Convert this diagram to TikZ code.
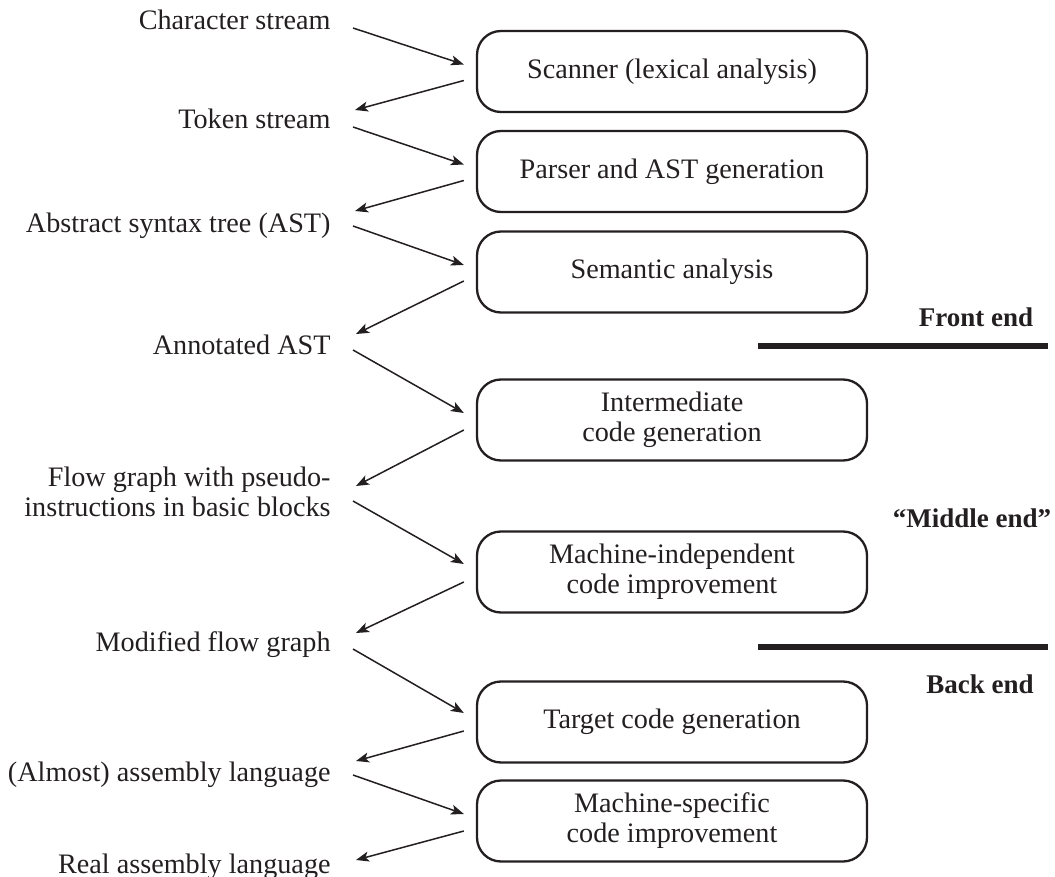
\documentclass[tikz,border=0pt]{standalone}
\usepackage{fontspec}
\setmainfont{Liberation Serif}
\usetikzlibrary{arrows.meta,calc}
\definecolor{ink}{RGB}{35,31,32}
\begin{document}
\begin{tikzpicture}[x=0.5pt,y=-0.5pt,
  stage/.style={draw=ink, line width=1.15pt, rounded corners=12pt, minimum width=195pt, minimum height=40.5pt, inner sep=0pt, align=center, font=\fontsize{14.1}{15}\selectfont, text=ink},
  lbl/.style={anchor=base east, inner sep=0pt, align=right, font=\fontsize{14.1}{15}\selectfont, text=ink},
  endlbl/.style={anchor=base, inner sep=0pt, font=\fontsize{13.5}{15}\selectfont\bfseries, text=ink},
  arr/.style={draw=ink, line width=0.75pt, -{Stealth[length=6.5pt,width=5pt,inset=1.6pt]}},
  bar/.style={draw=ink, line width=3pt}]
\useasboundingbox (0,0) rectangle (1055,877);

% stages
\node[stage] (b1) at (672,71.5) {Scanner (lexical analysis)};
\node[stage] (b2) at (672,171.5) {Parser and AST generation};
\node[stage] (b3) at (672,272) {Semantic analysis};
\node[stage] (b4) at (672,420) {Intermediate\\code generation};
\node[stage] (b5) at (672,572) {Machine-independent\\code improvement};
\node[stage] (b6) at (672,722) {Target code generation};
\node[stage] (b7) at (672,821) {Machine-specific\\code improvement};

% data labels
\node[lbl] (cs) at (331,30) {Character stream};
\node[lbl] (ts) at (331,129) {Token stream};
\node[lbl] (ast) at (331,233) {Abstract syntax tree (AST)};
\node[lbl] (ann) at (331,354) {Annotated AST};
\node[lbl] (flow) at (331,516) {Flow graph with pseudo-\\instructions in basic blocks};
\node[lbl] (mod) at (331,651) {Modified flow graph};
\node[lbl] (alm) at (331,781) {(Almost) assembly language};
\node[lbl] (real) at (331,873) {Real assembly language};

% phase labels
\node[endlbl] (fe) at (976,327) {Front end};
\node[endlbl] (me) at (972,527) {“Middle end”};
\node[endlbl] (be) at (980,693) {Back end};

% phase separators
\coordinate (s1a) at (758,346); \coordinate (s1b) at (1048,346);
\coordinate (s2a) at (758,647); \coordinate (s2b) at (1048,647);
\draw[bar] (s1a) -- (s1b);
\draw[bar] (s2a) -- (s2b);

% connectors
\draw[arr] ($(cs.base east)+(22,-2)$) -- ($(b1.west)+(-12,-7)$);
\draw[arr] ($(b1.west)+(-12,9)$) -- ($(ts.base east)+(24,-19)$);
\draw[arr] ($(ts.base east)+(22,-2)$) -- ($(b2.west)+(-12,-7)$);
\draw[arr] ($(b2.west)+(-12,9)$) -- ($(ast.base east)+(24,-22)$);
\draw[arr] ($(ast.base east)+(22,-7)$) -- ($(b3.west)+(-12,-7)$);
\draw[arr] ($(b3.west)+(-12,9)$) -- ($(ann.base east)+(25,-20)$);
\draw[arr] ($(ann.base east)+(22,-4)$) -- ($(b4.west)+(-12,-7)$);
\draw[arr] ($(b4.west)+(-12,10)$) -- ($(flow.base east)+(25,-30)$);
\draw[arr] ($(flow.base east)+(22,-15)$) -- ($(b5.west)+(-12,-8)$);
\draw[arr] ($(b5.west)+(-12,10)$) -- ($(mod.base east)+(25,-18)$);
\draw[arr] ($(mod.base east)+(22,-2)$) -- ($(b6.west)+(-12,-9)$);
\draw[arr] ($(b6.west)+(-12,9)$) -- ($(alm.base east)+(25,-20)$);
\draw[arr] ($(alm.base east)+(22,-6)$) -- ($(b7.west)+(-12,-7)$);
\draw[arr] ($(b7.west)+(-12,10)$) -- ($(real.base east)+(25,-13)$);
\end{tikzpicture}
\end{document}
